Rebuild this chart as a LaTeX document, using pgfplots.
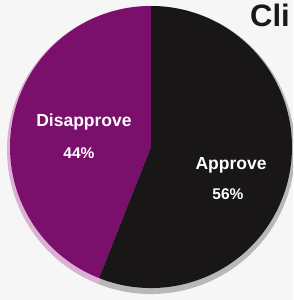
\documentclass[border=0pt]{standalone}
\usepackage{pgfplots}
\usepackage{pgfplotstable}
\pgfplotsset{compat=1.18}
\usepackage{fontspec}
\setmainfont{Liberation Sans}
\definecolor{piepurple}{RGB}{122,16,108}
\definecolor{pieblack}{RGB}{24,22,22}
\definecolor{shadowpink}{RGB}{220,176,212}
\definecolor{shadowgray}{RGB}{184,184,184}
\definecolor{paper}{RGB}{246,246,246}
\pgfplotstableread{
label value
Disapprove 44
Approve 56
}\piedata
\begin{document}
\begin{tikzpicture}
\pgfplotstablegetelem{0}{value}\of\piedata \let\vd\pgfplotsretval
\pgfplotstablegetelem{1}{value}\of\piedata \let\va\pgfplotsretval
\pgfmathsetmacro{\angd}{90+3.6*\vd}
\pgfmathsetmacro{\anga}{\angd+3.6*\va}
\useasboundingbox (0,0) rectangle (293pt,300pt);
\clip (0,0) rectangle (293pt,300pt);
\begin{axis}[width=293pt,height=300pt,scale only axis,
  xmin=0,xmax=293,ymin=0,ymax=300,hide axis]
\fill[paper] (axis cs:0,0) rectangle (axis cs:293,300);
% shadow
\fill[shadowpink] (axis cs:151,150) -- ++(90:144pt) arc[start angle=90,end angle=\angd,radius=144pt] -- cycle;
\fill[shadowgray] (axis cs:151,150) -- ++(\angd:144pt) arc[start angle=\angd,end angle=\anga,radius=144pt] -- cycle;
% pie
\fill[piepurple] (axis cs:151,153) -- ++(90:141pt) arc[start angle=90,end angle=\angd,radius=141pt] -- cycle;
\fill[pieblack] (axis cs:151,153) -- ++(\angd:141pt) arc[start angle=\angd,end angle=\anga,radius=141pt] -- cycle;
% labels
\node[white,anchor=base,font=\bfseries\fontsize{17.5}{20}\selectfont] at (axis cs:84,173) {Disapprove};
\node[white,anchor=base,font=\bfseries\fontsize{15.5}{18}\selectfont] at (axis cs:79,141) {\vd\%};
\node[white,anchor=base,font=\bfseries\fontsize{17.5}{20}\selectfont] at (axis cs:231,130) {Approve};
\node[white,anchor=base,font=\bfseries\fontsize{15.5}{18}\selectfont] at (axis cs:228,100) {\va\%};
\node[black!90,anchor=base west,inner sep=0pt,font=\bfseries\fontsize{31}{34}\selectfont] at (axis cs:250,273) {Cli};
\end{axis}
\end{tikzpicture}
\end{document}
